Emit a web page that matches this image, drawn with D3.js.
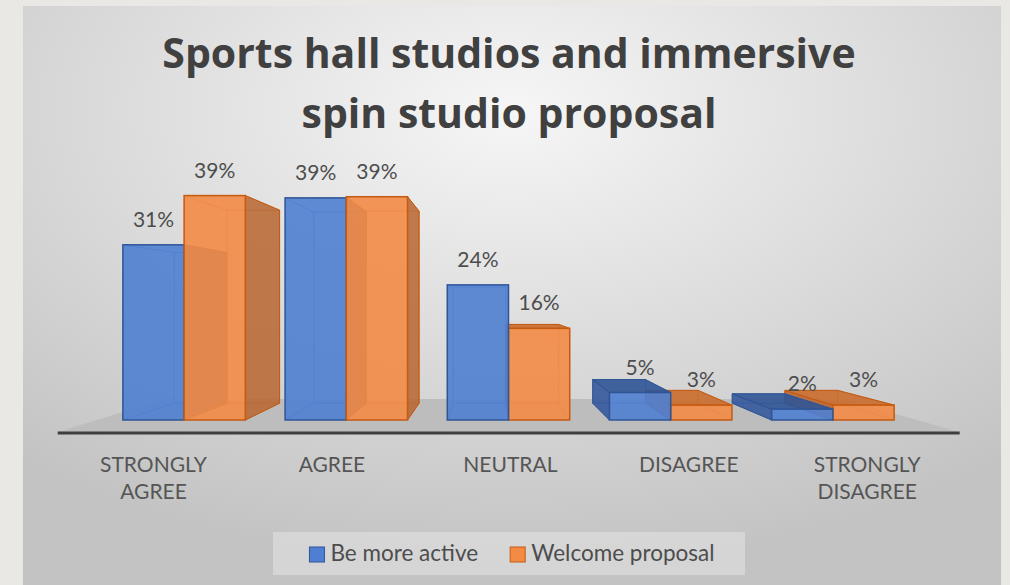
<!DOCTYPE html>
<html>
<head>
<meta charset="utf-8">
<style>
    body { margin: 0; background: #e9e8e4; }
    svg { display: block; }
    .title { font-family: 'Open Sans', sans-serif; font-weight: 700; fill: #404040; }
    .lbl { font-family: Lato, sans-serif; fill: #4d4d4d; }
</style>
</head>
<body>
<svg width="1010" height="585"></svg>

<script src="https://d3js.org/d3.v7.min.js"></script>
<script>
    // data
    const categories = ["STRONGLY AGREE", "AGREE", "NEUTRAL", "DISAGREE", "STRONGLY DISAGREE"];
    const seriesNames = ["Be more active", "Welcome proposal"];
    const beMoreActive = [30.6, 38.8, 23.6, 4.8, 1.9];
    const welcomeProposal = [39.2, 39.0, 16.0, 2.6, 2.6];
    const titleLines = ["Sports hall studios and immersive", "spin studio proposal"];

    const series = [beMoreActive, welcomeProposal];
    const palette = [
        { front: "#4f7fd2", side: "#34589c", top: "#2f5597", stroke: "#2f5597" },
        { front: "#f38b45", side: "#b9652f", top: "#c96c2c", stroke: "#c55a11" }
    ];

    const svg = d3.select("svg");

    // background
    const defs = svg.append("defs");
    const grad = defs.append("radialGradient").attr("id", "bg")
        .attr("cx", "50%").attr("cy", "18%").attr("r", "78%");
    grad.append("stop").attr("offset", "0%").attr("stop-color", "#f6f6f6");
    grad.append("stop").attr("offset", "100%").attr("stop-color", "#c3c3c3");

    svg.append("rect").attr("width", 1010).attr("height", 585).attr("fill", "#e9e8e4");
    svg.append("rect").attr("x", 23).attr("y", 6).attr("width", 978).attr("height", 585)
        .attr("fill", "url(#bg)");

    // title
    svg.append("g").selectAll("text")
        .data(titleLines)
        .join("text")
        .attr("class", "title")
        .attr("x", 509)
        .attr("y", (d, i) => 68 + i * 60)
        .attr("text-anchor", "middle")
        .style("font-size", "41px")
        .text(d => d);

    // scales
    let x = d3.scaleBand()
        .domain(categories)
        .range([103, 914])
        .paddingInner(0.245)
        .paddingOuter(0.1225);
    let xs = d3.scaleBand()
        .domain(seriesNames)
        .range([0, x.bandwidth()]);
    let y = d3.scaleLinear()
        .domain([0, 40])
        .range([420, 191]);

    // simple perspective: shrink toward a vanishing point
    const V = [490, 300];
    const proj = (px, py, s) => [V[0] + s * (px - V[0]), V[1] + s * (py - V[1])];
    const sBack = 0.86, sFloorFront = 1.1, sFloorBack = 0.825;

    // floor
    let fx0 = x.range()[0] - 6, fx1 = x.range()[1] + 3;
    let floor = [proj(fx0, y(0), sFloorFront), proj(fx1, y(0), sFloorFront),
                 proj(fx1, y(0), sFloorBack), proj(fx0, y(0), sFloorBack)];
    svg.append("path")
        .attr("d", d3.line()(floor) + "Z")
        .attr("fill", "#bdbdbd");
    svg.append("line")
        .attr("x1", floor[0][0]).attr("x2", floor[1][0])
        .attr("y1", floor[0][1] + 1).attr("y2", floor[1][1] + 1)
        .attr("stroke", "#3f3f3f").attr("stroke-width", 3);

    // bars
    let bars = [];
    categories.forEach((c, i) => {
        seriesNames.forEach((s, j) => {
            let x0 = x(c) + xs(s), x1 = x0 + xs.bandwidth();
            bars.push({ cat: c, j: j, v: series[j][i], x0: x0, x1: x1, yt: y(series[j][i]), yb: y(0) });
        });
    });
    bars.sort((a, b) => Math.abs((b.x0 + b.x1) / 2 - V[0]) - Math.abs((a.x0 + a.x1) / 2 - V[0]));

    let barG = svg.append("g");
    bars.forEach(b => {
        let col = palette[b.j];
        let g = barG.append("g");
        let fTL = [b.x0, b.yt], fTR = [b.x1, b.yt], fBR = [b.x1, b.yb], fBL = [b.x0, b.yb];
        let bTL = proj(b.x0, b.yt, sBack), bTR = proj(b.x1, b.yt, sBack),
            bBR = proj(b.x1, b.yb, sBack), bBL = proj(b.x0, b.yb, sBack);
        let poly = pts => d3.line()(pts) + "Z";

        // hidden edges, seen through the glass
        g.append("path")
            .attr("d", poly([bTL, bTR, bBR, bBL]) + "M" + fTL + "L" + bTL + "M" + fBL + "L" + bBL
                + "M" + fTR + "L" + bTR + "M" + fBR + "L" + bBR)
            .attr("fill", "none")
            .attr("stroke", col.stroke)
            .attr("stroke-opacity", 0.6)
            .attr("stroke-width", 1);

        if (b.x0 > V[0]) {
            g.append("path").attr("d", poly([fTL, bTL, bBL, fBL]))
                .attr("fill", col.side).attr("fill-opacity", 0.9)
                .attr("stroke", col.stroke).attr("stroke-width", 1);
        }
        if (b.x1 < V[0]) {
            g.append("path").attr("d", poly([fTR, bTR, bBR, fBR]))
                .attr("fill", col.side).attr("fill-opacity", 0.85)
                .attr("stroke", col.stroke).attr("stroke-width", 1);
        }
        if (b.yt > V[1]) {
            g.append("path").attr("d", poly([fTL, fTR, bTR, bTL]))
                .attr("fill", col.top).attr("fill-opacity", 0.9)
                .attr("stroke", col.stroke).attr("stroke-width", 1);
        }
        g.append("rect")
            .attr("x", b.x0).attr("y", b.yt)
            .attr("width", b.x1 - b.x0).attr("height", b.yb - b.yt)
            .attr("fill", col.front).attr("fill-opacity", 0.9)
            .attr("stroke", col.stroke).attr("stroke-width", 1.5);
    });

    // data labels
    svg.append("g").selectAll("text")
        .data(bars)
        .join("text")
        .attr("class", "lbl")
        .attr("x", d => (d.x0 + d.x1) / 2)
        .attr("y", d => d.yt - 18)
        .attr("text-anchor", "middle")
        .style("font-size", "21px")
        .text(d => Math.round(d.v) + "%");

    // category labels, under the front edge of the floor
    let catG = svg.append("g").selectAll("text")
        .data(categories)
        .join("text")
        .attr("class", "lbl")
        .attr("text-anchor", "middle")
        .style("font-size", "21px")
        .style("fill", "#555")
        .attr("transform", c => "translate(" + proj(x(c) + x.bandwidth() / 2, y(0), sFloorFront)[0] + ",472)");
    catG.selectAll("tspan")
        .data(c => c.split(" "))
        .join("tspan")
        .attr("x", 0)
        .attr("dy", (d, i) => i == 0 ? 0 : 27)
        .text(d => d);

    // legend
    let legend = svg.append("g");
    legend.append("rect")
        .attr("x", 273).attr("y", 532).attr("width", 472).attr("height", 43)
        .attr("fill", "#ffffff").attr("fill-opacity", 0.3);
    let items = legend.selectAll("g")
        .data(seriesNames)
        .join("g");
    items.append("rect")
        .attr("width", 15).attr("height", 15)
        .attr("fill", (d, i) => palette[i].front)
        .attr("stroke", (d, i) => palette[i].stroke);
    items.append("text")
        .attr("class", "lbl")
        .attr("x", 21).attr("y", 14)
        .style("font-size", "22.5px")
        .text(d => d);
    let widths = [];
    items.each(function () { widths.push(this.getBBox().width); });
    let gap = 32;
    let total = d3.sum(widths) + gap * (widths.length - 1);
    let cursor = 512 - total / 2;
    items.attr("transform", (d, i) => {
        let t = "translate(" + cursor + ",547)";
        cursor += widths[i] + gap;
        return t;
    });
</script>
</body>
</html>
